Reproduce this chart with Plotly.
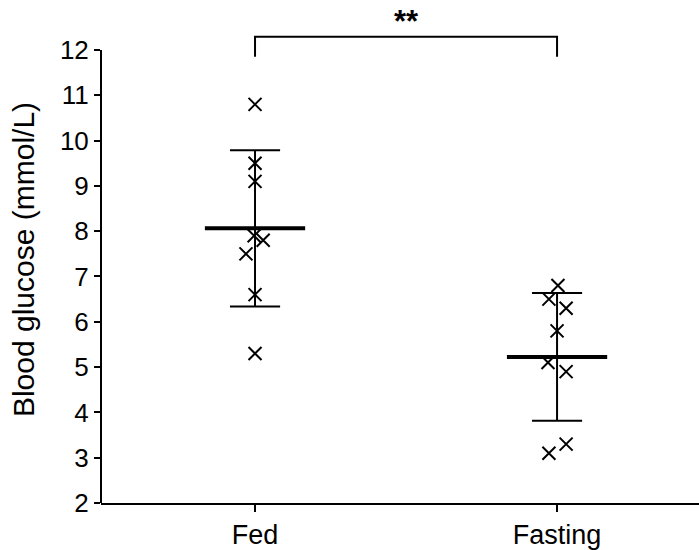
import numpy as np
import plotly.graph_objects as go

categories = ["Fed", "Fasting"]
fed_values = [10.8, 9.5, 9.1, 7.9, 7.8, 7.5, 6.6, 5.3]
fasting_values = [6.8, 6.5, 6.3, 5.8, 5.1, 4.9, 3.1, 3.3]
fed_jitter = [0, 0, 0, -0.003, 0.027, -0.03, 0, 0]
fasting_jitter = [0.003, -0.027, 0.03, 0, -0.03, 0.03, -0.027, 0.03]
y_ticks = list(range(2, 13))
significance = "**"

groups = [fed_values, fasting_values]
jitters = [fed_jitter, fasting_jitter]

FONT = "Liberation Sans, Arial, sans-serif"
fig = go.Figure()

mean_hw = 0.166
cap_hw = 0.083
for i, (vals, jit) in enumerate(zip(groups, jitters)):
    arr = np.array(vals)
    m = arr.mean()
    sd = arr.std(ddof=1)
    fig.add_trace(go.Scatter(
        x=[i, i, None, i - cap_hw, i + cap_hw, None, i - cap_hw, i + cap_hw],
        y=[m - sd, m + sd, None, m + sd, m + sd, None, m - sd, m - sd],
        mode="lines", line=dict(color="black", width=2), hoverinfo="skip",
        showlegend=False))
    fig.add_trace(go.Scatter(
        x=[i - mean_hw, i + mean_hw], y=[m, m], mode="lines",
        line=dict(color="black", width=4), showlegend=False))
    fig.add_trace(go.Scatter(
        x=[i + j for j in jit], y=vals, mode="markers",
        marker=dict(symbol="x-thin", size=13, line=dict(color="black", width=2)),
        showlegend=False))

# significance bracket
top = 12.29
fig.add_trace(go.Scatter(
    x=[0, 0, 1, 1], y=[11.85, top, top, 11.85], mode="lines",
    line=dict(color="black", width=2), showlegend=False))
fig.add_annotation(x=0.5, y=12.62, xref="x", yref="y", text="<b>" + significance + "</b>",
                   showarrow=False, font=dict(size=31, color="black", family=FONT))

# y axis line only from 2 to 12
fig.add_shape(type="line", xref="x domain", yref="y", x0=0, x1=0, y0=2, y1=12,
              line=dict(color="black", width=2))

fig.update_layout(
    width=699, height=550,
    margin=dict(l=101, r=0, t=16, b=45),
    plot_bgcolor="white", paper_bgcolor="white",
    font=dict(family=FONT, color="black", size=26),
    xaxis=dict(range=[-0.51, 1.47], tickmode="array", tickvals=[0, 1], ticktext=categories,
               showline=True, linecolor="black", linewidth=2, ticks="outside", ticklen=7,
               tickwidth=2, tickcolor="black", showgrid=False, zeroline=False,
               tickfont=dict(size=27)),
    yaxis=dict(range=[2, 12.75], tickmode="array", tickvals=y_ticks,
               showline=False, ticks="outside", ticklen=6, tickwidth=2, tickcolor="black",
               showgrid=False, zeroline=False, tickfont=dict(size=26),
               title=dict(text="Blood glucose (mmol/L)", font=dict(size=30), standoff=16)),
)

fig.write_html("out.html")
